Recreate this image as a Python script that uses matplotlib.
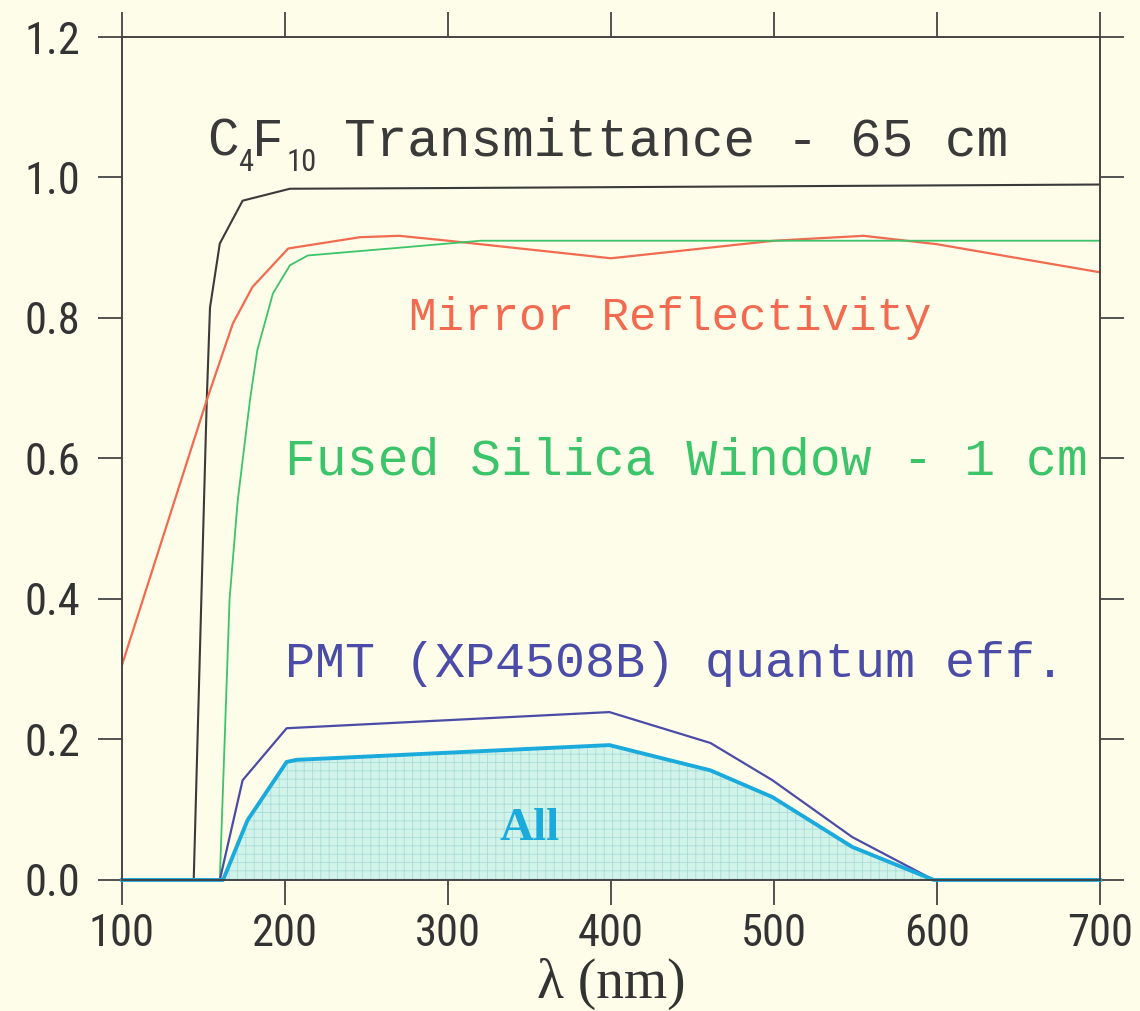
import matplotlib
matplotlib.use("Agg")
import matplotlib.pyplot as plt
from matplotlib import font_manager

# pick a narrow sans for the tick labels if one is installed
installed = {f.name for f in font_manager.fontManager.ttflist}
narrow = [n for n in ['Liberation Sans Narrow', 'DejaVu Sans Condensed', 'Roboto Condensed',
                      'Open Sans Condensed'] if n in installed]
narrow_family = narrow[:1] + ['DejaVu Sans']

plt.rcParams['hatch.linewidth'] = 0.6

# wavelength (nm) / value pairs
wl_c4f10 = [144, 152, 154, 160, 174, 203, 300, 700]
tr_c4f10 = [0.0, 0.683, 0.815, 0.906, 0.967, 0.984, 0.985, 0.99]

wl_mirror = [100, 152, 168, 180, 202, 246, 270, 300, 400, 500, 555, 600, 700]
rf_mirror = [0.306, 0.683, 0.792, 0.844, 0.899, 0.915, 0.917, 0.91, 0.885, 0.91, 0.917, 0.905, 0.865]

wl_silica = [160, 163, 166, 171, 178.5, 183, 192.6, 203, 214, 270, 320, 700]
tr_silica = [0.0, 0.2, 0.4, 0.54, 0.683, 0.754, 0.835, 0.875, 0.889, 0.9, 0.91, 0.91]

wl_pmt = [160, 174, 201, 399, 461, 499, 548, 598, 700]
qe_pmt = [0.0, 0.142, 0.216, 0.239, 0.195, 0.142, 0.061, 0.0, 0.0]

wl_all = [100, 162, 177, 201, 207, 399, 461, 499, 548, 598, 620, 700]
eff_all = [0.0, 0.0, 0.085, 0.168, 0.171, 0.192, 0.156, 0.118, 0.047, 0.0, 0.0, 0.0]

x_ticks = [100, 200, 300, 400, 500, 600, 700]
y_ticks = [0.0, 0.2, 0.4, 0.6, 0.8, 1.0, 1.2]

bg = "#fdfdea"
c_black = "#3a3a3a"
c_red = "#f26a4f"
c_green = "#3cc46a"
c_purple = "#4b4ba8"
c_cyan = "#1aaadc"

fig = plt.figure(figsize=(11.4, 10.11), dpi=100, facecolor=bg)
ax = fig.add_axes([0.107, 0.1296, 0.858, 0.8338], facecolor=bg)

ax.fill_between(wl_all, eff_all, 0, facecolor="#d2f3ea", edgecolor="#a8dcd8",
                hatch="++", linewidth=0)
ax.plot(wl_c4f10, tr_c4f10, color=c_black, lw=1.5)
ax.plot(wl_mirror, rf_mirror, color=c_red, lw=1.6)
ax.plot(wl_silica, tr_silica, color=c_green, lw=1.3)
ax.plot(wl_pmt, qe_pmt, color=c_purple, lw=1.6)
ax.plot(wl_all, eff_all, color=c_cyan, lw=2.8, clip_on=False)

ax.set_xlim(100, 700)
ax.set_ylim(0, 1.2)

tick_font = dict(family=narrow_family, size=32)
ax.set_xticks(x_ticks)
ax.set_xticklabels([str(v) for v in x_ticks], fontdict=tick_font, color="#333333")
ax.set_yticks(y_ticks)
ax.set_yticklabels([f"{v:.1f}" for v in y_ticks], fontdict=tick_font, color="#333333")
ax.tick_params(axis='x', direction='out', length=18, width=1.3, color="#444444",
               pad=6, top=True)
ax.tick_params(axis='y', direction='out', length=17, width=1.3, color="#444444",
               pad=13, right=True)
for s in ax.spines.values():
    s.set_color("#444444")
    s.set_linewidth(1.4)

ax.set_xlabel("λ (nm)", family=['Liberation Serif', 'DejaVu Serif'], size=40,
              color="#333333", labelpad=2)

mono = ['Liberation Mono', 'DejaVu Sans Mono']
# C4F10 label built from pieces so the subscripts sit tight like the original
ax.text(152.5, 1.031, "C", color=c_black, family=mono, size=38, va='baseline')
ax.text(171, 1.009, "4", color=c_black, family=narrow_family, size=22, va='baseline')
ax.text(180, 1.031, "F", color=c_black, family=mono, size=38, va='baseline')
ax.text(201, 1.009, "10", color=c_black, family=narrow_family, size=22, va='baseline')
ax.text(236, 1.031, "Transmittance - 65 cm", color=c_black, family=mono, size=38,
        va='baseline')

ax.text(276, 0.8, "Mirror Reflectivity", color=c_red, family=mono, size=33, va='center')
ax.text(200, 0.596, "Fused Silica Window - 1 cm", color=c_green, family=mono, size=37,
        va='center')
ax.text(200, 0.307, "PMT (XP4508B) quantum eff.", color=c_purple, family=mono, size=36,
        va='center')
ax.text(350, 0.072, "All", color=c_cyan, ha='center', va='center', weight='bold',
        family=['Liberation Serif', 'DejaVu Serif'], size=34)

fig.savefig("out.png", dpi=100, facecolor=bg)
